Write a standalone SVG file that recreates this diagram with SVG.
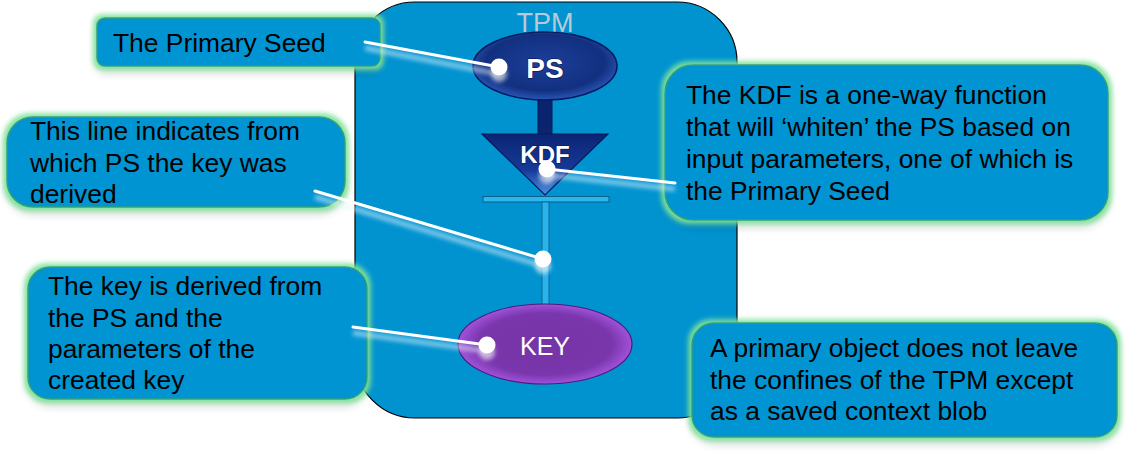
<svg xmlns="http://www.w3.org/2000/svg" width="1126" height="451" viewBox="0 0 1126 451">
<defs>
<style>
.callout{fill:#0094d2;stroke:#2fa07e;stroke-width:1.5;filter:url(#glow)}
.ct{font-family:"Liberation Sans",Arial,sans-serif;font-size:26.4px;fill:#000}
.lead{stroke:#fff;stroke-width:3;stroke-linecap:round;fill:none}
.leadglow{stroke:#e8f6ff;stroke-width:5;opacity:0.55;fill:none;filter:url(#blur)}
.dot{fill:#fff}
.dotglow{fill:#fff;opacity:0.6;filter:url(#blur)}
.nl{font-family:"Liberation Sans",Arial,sans-serif;fill:#fff;text-anchor:middle}
</style>
<filter id="glow" x="-15%" y="-25%" width="130%" height="160%">
<feOffset in="SourceAlpha" dx="0" dy="5" result="o"/>
<feGaussianBlur in="o" stdDeviation="4" result="sh"/>
<feFlood flood-color="#000" flood-opacity="0.3"/>
<feComposite in2="sh" operator="in" result="shadow"/>
<feMorphology in="SourceAlpha" operator="dilate" radius="3" result="d"/>
<feGaussianBlur in="d" stdDeviation="2.5" result="db"/>
<feFlood flood-color="#7fe39a" flood-opacity="0.95"/>
<feComposite in2="db" operator="in" result="g"/>
<feMerge><feMergeNode in="shadow"/><feMergeNode in="g"/><feMergeNode in="SourceGraphic"/></feMerge>
</filter>
<filter id="blur" x="-20%" y="-50%" width="140%" height="200%"><feGaussianBlur stdDeviation="2"/></filter>
<radialGradient id="psg" cx="50%" cy="45%" r="55%">
<stop offset="0" stop-color="#1d3f9c"/><stop offset="0.75" stop-color="#12307f"/><stop offset="1" stop-color="#2a56b8"/>
</radialGradient>
<linearGradient id="kdfg" x1="0" y1="0" x2="0" y2="1">
<stop offset="0" stop-color="#0c2574"/><stop offset="0.6" stop-color="#163a98"/><stop offset="1" stop-color="#4d93e4"/>
</linearGradient>
<radialGradient id="keyg" cx="50%" cy="50%" r="55%">
<stop offset="0" stop-color="#7534a6"/><stop offset="0.7" stop-color="#7a36ac"/><stop offset="1" stop-color="#b25ef0"/>
</radialGradient>
</defs>

<g id="tpm">
<rect x="355" y="2" width="382" height="416" rx="60" ry="60" fill="#0093d0" stroke="#000" stroke-width="1.2"/>
<text x="545" y="32" text-anchor="middle" font-family="Liberation Sans,Arial,sans-serif" font-size="27" fill="#b9cad6">TPM</text>
</g>

<g id="stem">
<rect x="538" y="96" width="14" height="42" fill="#0b2470" stroke="#061a55" stroke-width="1"/>
<rect x="483" y="196.5" width="126" height="5.5" fill="#2bb6ec" stroke="#0b5f8a" stroke-width="1"/>
<rect x="542" y="202" width="7" height="104" fill="#2ab2ea" stroke="#0a6a98" stroke-width="1"/>
</g>

<g id="ps">
<ellipse cx="545" cy="66" rx="72" ry="34" fill="url(#psg)" stroke="#061b5c" stroke-width="1.5"/>
<text class="nl" x="545" y="78" font-weight="bold" font-size="28" stroke="#0a1f60" stroke-width="1.5" paint-order="stroke">PS</text>
</g>

<g id="kdf">
<polygon points="482,134 608,134 545,195" fill="url(#kdfg)" stroke="#061b5c" stroke-width="1.2"/>
<text class="nl" x="545" y="163" font-weight="bold" font-size="24" stroke="#0a1f60" stroke-width="1.5" paint-order="stroke">KDF</text>
</g>

<g id="key">
<ellipse cx="545" cy="344" rx="87" ry="40" fill="url(#keyg)" stroke="#4e1c78" stroke-width="1.2"/>
<text class="nl" x="545" y="355" font-size="25">KEY</text>
</g>

<g id="callout-ps">
<rect class="callout" x="97" y="18" width="283" height="48" rx="8"/>
<text class="ct" x="113" y="52">The Primary Seed</text>
</g>

<g id="callout-line">
<rect class="callout" x="7" y="117" width="338" height="90" rx="26"/>
<text class="ct" x="30" y="140">This line indicates from</text>
<text class="ct" x="30" y="172">which PS the key was</text>
<text class="ct" x="30" y="203">derived</text>
</g>

<g id="callout-key">
<rect class="callout" x="28" y="267" width="339" height="132" rx="22"/>
<text class="ct" x="48" y="295">The key is derived from</text>
<text class="ct" x="48" y="327">the PS and the</text>
<text class="ct" x="48" y="358">parameters of the</text>
<text class="ct" x="48" y="389">created key</text>
</g>

<g id="callout-kdf">
<rect class="callout" x="665" y="65" width="443" height="155" rx="28"/>
<text class="ct" x="686" y="104">The KDF is a one-way function</text>
<text class="ct" x="686" y="136">that will ‘whiten’ the PS based on</text>
<text class="ct" x="686" y="168">input parameters, one of which is</text>
<text class="ct" x="686" y="200">the Primary Seed</text>
</g>

<g id="callout-primary">
<rect class="callout" x="692" y="323" width="425" height="114" rx="22"/>
<text class="ct" x="710" y="357">A primary object does not leave</text>
<text class="ct" x="710" y="389">the confines of the TPM except</text>
<text class="ct" x="710" y="420">as a saved context blob</text>
</g>

<g id="connectors">
<line class="leadglow" x1="365" y1="48" x2="499" y2="74"/>
<line class="lead" x1="365" y1="42" x2="499" y2="67"/>
<circle class="dotglow" cx="499" cy="74" r="8"/>
<circle class="dot" cx="499" cy="67" r="8.5"/>

<line class="leadglow" x1="547" y1="175" x2="675" y2="189"/>
<line class="lead" x1="547" y1="169" x2="675" y2="183"/>
<circle class="dotglow" cx="547" cy="176" r="8"/>
<circle class="dot" cx="547" cy="169" r="8.5"/>

<line class="leadglow" x1="315" y1="197" x2="543" y2="266"/>
<line class="lead" x1="315" y1="191" x2="543" y2="259"/>
<circle class="dotglow" cx="543" cy="266" r="8"/>
<circle class="dot" cx="543" cy="259" r="8.5"/>

<line class="leadglow" x1="353" y1="333" x2="487" y2="351"/>
<line class="lead" x1="353" y1="327" x2="487" y2="345"/>
<circle class="dotglow" cx="487" cy="352" r="8"/>
<circle class="dot" cx="487" cy="345" r="8.5"/>
</g>
</svg>
